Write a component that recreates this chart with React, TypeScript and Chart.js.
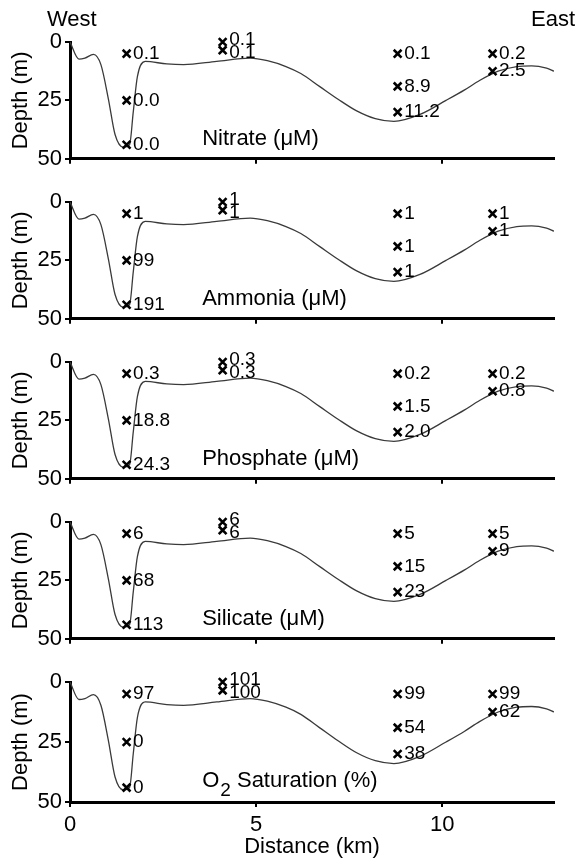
import React, { useEffect, useRef } from "react";
import { Chart, registerables } from "chart.js";

Chart.register(...registerables);

const FONT_FAMILY = '"Liberation Sans", Arial, Helvetica, sans-serif';

// Bathymetric profile (distance km, depth m)
const profileKm = [0, 0.24, 0.4, 0.63, 0.83, 1.03, 1.21, 1.43, 1.6, 1.7, 1.81, 2.02, 2.6, 3.05, 3.94, 4.84, 5.3, 5.8, 6.2, 6.7, 7.2, 7.7, 8.2, 8.7, 9.4, 10.1, 10.6, 11.0, 11.5, 12.0, 12.4, 12.8, 13.0];
const profileDepth = [0, 7.3, 6.9, 5.3, 9.7, 24.3, 39.6, 45, 44, 29.8, 14.8, 8.3, 9.4, 9.7, 8.3, 6.9, 8.0, 10.5, 13.5, 19, 24.5, 29.5, 32.8, 34, 31, 25, 20.5, 16.5, 12.5, 10.5, 10.2, 11.2, 12.5];

// Sample positions
const sampleKm = [1.52, 1.52, 1.52, 4.1, 4.1, 8.8, 8.8, 8.8, 11.35, 11.35];
const sampleDepth = [5, 25, 44, 0, 3.5, 5, 19, 30, 5, 12.5];

// Values at samples
const nitrate = ["0.1", "0.0", "0.0", "0.1", "0.1", "0.1", "8.9", "11.2", "0.2", "2.5"];
const ammonia = ["1", "99", "191", "1", "1", "1", "1", "1", "1", "1"];
const phosphate = ["0.3", "18.8", "24.3", "0.3", "0.3", "0.2", "1.5", "2.0", "0.2", "0.8"];
const silicate = ["6", "68", "113", "6", "6", "5", "15", "23", "5", "9"];
const oxygen = ["97", "0", "0", "101", "100", "99", "54", "38", "99", "62"];

const panelNames = ["Nitrate (μM)", "Ammonia (μM)", "Phosphate (μM)", "Silicate (μM)", "O₂ Saturation (%)"];
const panelValues = [nitrate, ammonia, phosphate, silicate, oxygen];

const yTickStep = 25;
const xTickStep = 5;

const textPlugin = {
  id: "panelText",
  afterDatasetsDraw(chart: any, _args: any, opts: any) {
    const { ctx, scales } = chart;
    const meta = chart.getDatasetMeta(1);
    const labels: string[] = opts.values || [];
    const pts = meta.data.map((p: any) => ({ x: p.x, y: p.y }));
    const ys = pts.map((p: any) => p.y);
    for (let i = 0; i < pts.length; i++) {
      for (let j = i + 1; j < pts.length; j++) {
        if (Math.abs(pts[i].x - pts[j].x) < 1 && Math.abs(pts[i].y - pts[j].y) < 13) {
          const mid = (pts[i].y + pts[j].y) / 2;
          const up = pts[i].y < pts[j].y ? i : j;
          const dn = up === i ? j : i;
          ys[up] = mid - 6.5;
          ys[dn] = mid + 6.5;
        }
      }
    }
    ctx.save();
    ctx.fillStyle = "#000";
    ctx.textBaseline = "middle";
    ctx.textAlign = "left";
    ctx.font = `19px ${FONT_FAMILY}`;
    pts.forEach((p: any, k: number) => {
      ctx.fillText(labels[k], p.x + 6.5, ys[k]);
    });

    // panel name
    const nx = scales.x.getPixelForValue(3.55);
    const ny = scales.y.getPixelForValue(41.3);
    ctx.font = `22px ${FONT_FAMILY}`;
    const name: string = opts.name;
    if (name.includes("₂")) {
      const [before, after] = name.split("₂");
      ctx.fillText(before, nx, ny);
      let cx = nx + ctx.measureText(before).width + 1;
      ctx.font = `19px ${FONT_FAMILY}`;
      ctx.fillText("2", cx, ny + 10);
      cx += ctx.measureText("2").width;
      ctx.font = `22px ${FONT_FAMILY}`;
      ctx.fillText(after, cx, ny);
    } else {
      ctx.fillText(name, nx, ny);
    }

    if (opts.showEnds) {
      ctx.font = `22px ${FONT_FAMILY}`;
      ctx.textAlign = "left";
      ctx.fillText("West", 47, 20);
      ctx.textAlign = "right";
      ctx.fillText("East", 575, 20);
    }
    ctx.restore();
  },
};

function Panel({ index }: { index: number }) {
  const ref = useRef<HTMLCanvasElement>(null);
  const isLast = index === panelNames.length - 1;
  const height = isLast ? 220 : 175;

  useEffect(() => {
    const font = { family: FONT_FAMILY, size: 22 };
    const chart = new Chart(ref.current as HTMLCanvasElement, {
      type: "scatter",
      data: {
        datasets: [
          {
            data: profileKm.map((x, i) => ({ x, y: profileDepth[i] })),
            showLine: true,
            borderColor: "#3a3a3a",
            borderWidth: 1.3,
            pointRadius: 0,
            cubicInterpolationMode: "monotone",
            order: 2,
          } as any,
          {
            data: sampleKm.map((x, i) => ({ x, y: sampleDepth[i] })),
            pointStyle: "crossRot",
            pointRadius: 5.5,
            borderColor: "#000",
            backgroundColor: "#000",
            borderWidth: 2.6,
            clip: false,
            order: 1,
          } as any,
        ],
      },
      options: {
        responsive: false,
        animation: false,
        devicePixelRatio: 1,
        events: [],
        layout: { padding: { top: 42, right: 25, left: 0, bottom: 0 } },
        plugins: {
          legend: { display: false },
          tooltip: { enabled: false },
          panelText: { values: panelValues[index], name: panelNames[index], showEnds: index === 0 },
        } as any,
        scales: {
          x: {
            type: "linear",
            position: "bottom",
            min: 0,
            max: 13,
            ticks: { stepSize: xTickStep, includeBounds: false, display: isLast, font, color: "#000", padding: 5 },
            grid: { drawOnChartArea: false, drawTicks: true, tickLength: 5, lineWidth: 2, color: "#000" },
            border: { display: true, width: 3, color: "#000" },
            title: { display: isLast, text: "Distance (km)", font, color: "#000", padding: 0 },
            afterFit: (s: any) => {
              s.height = isLast ? 58 : 13;
            },
          },
          y: {
            type: "linear",
            min: 0,
            max: 50,
            reverse: true,
            ticks: { stepSize: yTickStep, font, color: "#000", padding: 3 },
            grid: { drawOnChartArea: false, drawTicks: true, tickLength: 5, lineWidth: 2, color: "#000" },
            border: { display: true, width: 3, color: "#000" },
            title: { display: true, text: "Depth (m)", font, color: "#000", padding: { top: 8, bottom: 0 } },
            afterFit: (s: any) => {
              s.width = 70;
            },
          },
        } as any,
      },
      plugins: [textPlugin],
    });
    return () => chart.destroy();
  }, []);

  return (
    <canvas
      ref={ref}
      width={579}
      height={height}
      style={{ position: "absolute", left: 0, top: 160 * index, width: 579, height, display: "block" }}
    />
  );
}

export default function App() {
  return (
    <div style={{ position: "absolute", left: 0, top: 0, width: 579, height: 860, background: "#fff" }}>
      {panelNames.map((_, i) => (
        <Panel key={i} index={i} />
      ))}
    </div>
  );
}
